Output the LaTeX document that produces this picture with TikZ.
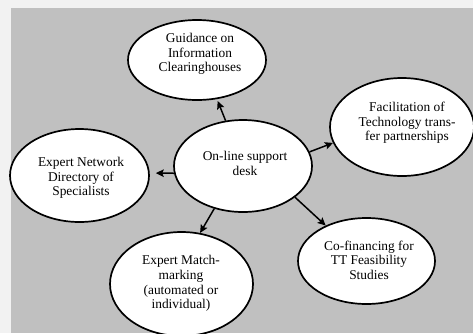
\documentclass[tikz,border=0pt]{standalone}
\usepackage{fontspec}
\setmainfont{Liberation Serif}
\usetikzlibrary{arrows.meta,shapes.geometric}
\definecolor{outerbg}{HTML}{F2F2F2}
\definecolor{panel}{HTML}{C0C0C0}
\begin{document}
\begin{tikzpicture}[x=1pt,y=-1pt,
  bubble/.style={ellipse,draw=black,fill=white,line width=1.7pt,inner sep=0pt},
  txt/.style={align=center,inner sep=0pt,font=\fontsize{13.4}{14.6}\selectfont},
  arr/.style={line width=1.5pt,-{Stealth[length=8pt,width=7.5pt,inset=1.5pt]}}]
\useasboundingbox (0,0) rectangle (473,333);
\fill[outerbg] (0,0) rectangle (473,333);
\fill[panel] (11,8) rectangle (473,333);
\clip (0,0) rectangle (473,333);
% ellipses
\node[bubble,minimum width=138pt,minimum height=80pt] (g) at (197,60) {};
\node[bubble,minimum width=144pt,minimum height=98pt] (f) at (402,127) {};
\node[bubble,minimum width=138pt,minimum height=92pt] (c) at (243,166) {};
\node[bubble,minimum width=139pt,minimum height=93pt] (n) at (79.5,175.5) {};
\node[bubble,minimum width=143pt,minimum height=104pt] (m) at (181.5,284) {};
\node[bubble,minimum width=137pt,minimum height=86pt] (co) at (366.5,261) {};
% texts
\node[txt] (gt) at (200,54) {Guidance on\\Information\\Clearinghouses};
\node[txt] (ft) at (407,123) {Facilitation of\\Technology trans-\\fer partnerships};
\node[txt] (ct) at (245,163.5) {On-line support\\desk};
\node[txt] (nt) at (81,178) {Expert Network\\Directory of\\Specialists};
\node[txt] (mt) at (181,283.5) {Expert Match-\\marking\\(automated or\\individual)};
\node[txt] (cot) at (369,260) {Co-financing for\\TT Feasibility\\Studies};
% arrows
\draw[arr,shorten >=2pt] (c.111) -- (g.-63);
\draw[arr] (c.12) -- (f.-167);
\draw[arr,shorten >=6pt] (c.-174) -- (n.2);
\draw[arr] (c.-124) -- (m.70);
\draw[arr] (c.-31) -- (co.139);
\end{tikzpicture}
\end{document}
